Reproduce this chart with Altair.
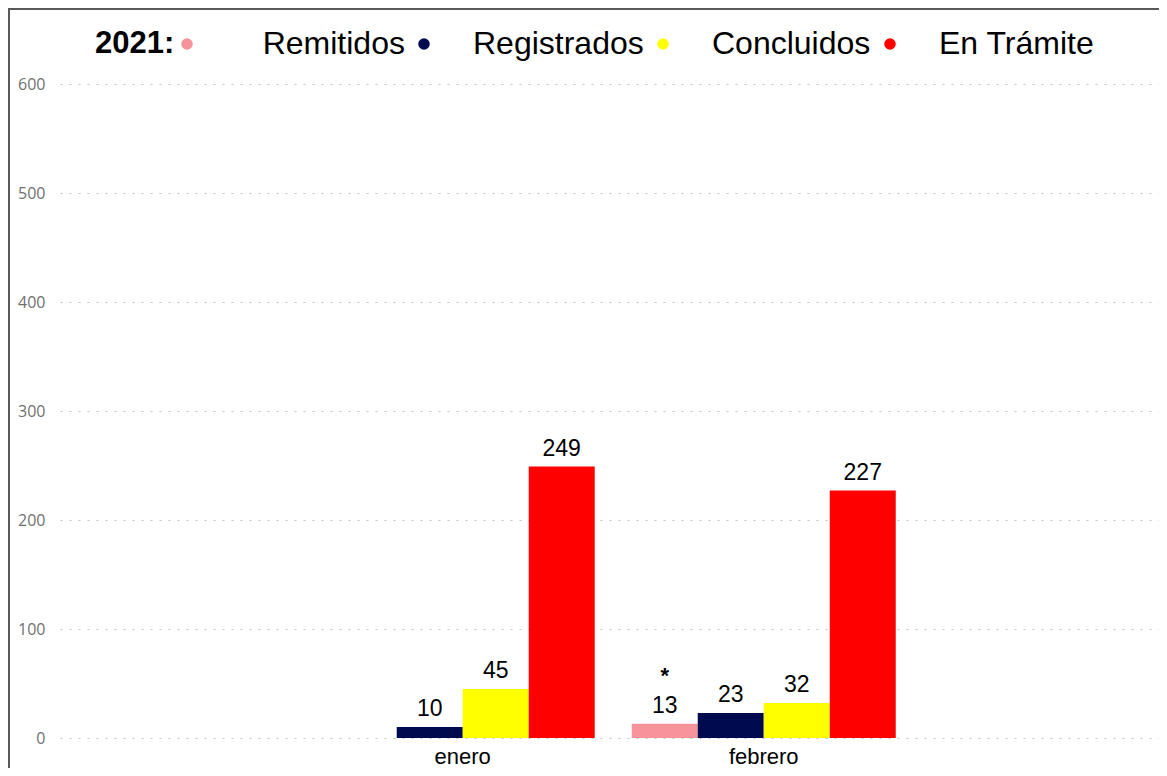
import altair as alt
import pandas as pd

months = ["enero", "febrero"]
series = ["Remitidos", "Registrados", "Concluidos", "En Trámite"]
colors = ["#F7939B", "#000B4F", "#FFFF00", "#FF0000"]
enero_vals = [None, 10, 45, 249]
febrero_vals = [13, 23, 32, 227]
enero_notes = ["", "", "", ""]
febrero_notes = ["*", "", "", ""]
y_ticks = [0, 100, 200, 300, 400, 500, 600]

rows = []
for m, vals, notes in [("enero", enero_vals, enero_notes), ("febrero", febrero_vals, febrero_notes)]:
    for s, v, n in zip(series, vals, notes):
        if v is not None:
            rows.append({"mes": m, "serie": s, "valor": v, "nota": n})
df = pd.DataFrame(rows)

FONT = "Liberation Sans"

x = alt.X(
    "mes:N", sort=months,
    scale=alt.Scale(domain=months, paddingInner=0.123, paddingOuter=0.887, align=0.507),
    axis=alt.Axis(title=None, domain=False, ticks=False, labelAngle=0, labelFontSize=22,
                  labelFont=FONT, labelColor="#000", labelPadding=8),
)
xo = alt.XOffset("serie:N", sort=series,
                 scale=alt.Scale(domain=series, paddingInner=0, paddingOuter=0))
y = alt.Y(
    "valor:Q",
    scale=alt.Scale(domain=[0, 600], nice=False),
    axis=alt.Axis(title=None, values=y_ticks, domain=False, ticks=False, grid=True,
                  gridDash=[2, 7], gridColor="#c4c4c4", gridWidth=1.2,
                  labelFont="Open Sans", labelFontSize=16, labelColor="#707070",
                  labelPadding=15),
)
color = alt.Color(
    "serie:N", sort=series,
    scale=alt.Scale(domain=series, range=colors),
    legend=alt.Legend(
        title="2021:", orient="none", legendX=35, legendY=-56, direction="horizontal",
        titleOrient="left", titleFont=FONT, titleFontSize=31, titleFontWeight="bold",
        titleColor="#000", titlePadding=-4, titleBaseline="middle", titleAnchor="middle",
        labelFont=FONT, labelFontSize=32, labelColor="#000", labelOffset=33, labelLimit=0,
        labelExpr="datum.label == 'Remitidos' ? '\u200b\u00a0\u00a0\u00a0Remitidos' : datum.label",
        symbolType="circle", symbolSize=133, symbolStrokeWidth=0, symbolOpacity=1,
        columnPadding=3,
    ),
)

base = alt.Chart(df)
bars = base.mark_bar().encode(x=x, xOffset=xo, y=y, color=color)
labels = base.mark_text(font=FONT, fontSize=23, color="#000", baseline="alphabetic", dy=-11).encode(
    x=x, xOffset=xo, y=y, text="valor:Q")
notes = base.transform_filter("datum.nota != ''").mark_text(
    font=FONT, fontSize=22, fontWeight="bold", color="#000", baseline="alphabetic", dy=-41
).encode(x=x, xOffset=xo, y=y, text="nota:N")

one = alt.Chart(pd.DataFrame({"a": [0]}))
frame_left = one.mark_rule(color="#5a5a5a", strokeWidth=2).encode(
    x=alt.value(-51), y=alt.value(-76), y2=alt.value(720))
frame_top = one.mark_rule(color="#5a5a5a", strokeWidth=2).encode(
    x=alt.value(-52), x2=alt.value(1120), y=alt.value(-75))

chart = alt.layer(bars, labels, notes, frame_left, frame_top).properties(
    width=1099, height=654,
    autosize=alt.AutoSizeParams(type="none"),
    padding={"left": 52, "top": 76, "right": 0, "bottom": 30},
    background="white",
).configure_view(stroke=None)

chart.save("out.html", embed_options={"renderer": "svg", "actions": False})
